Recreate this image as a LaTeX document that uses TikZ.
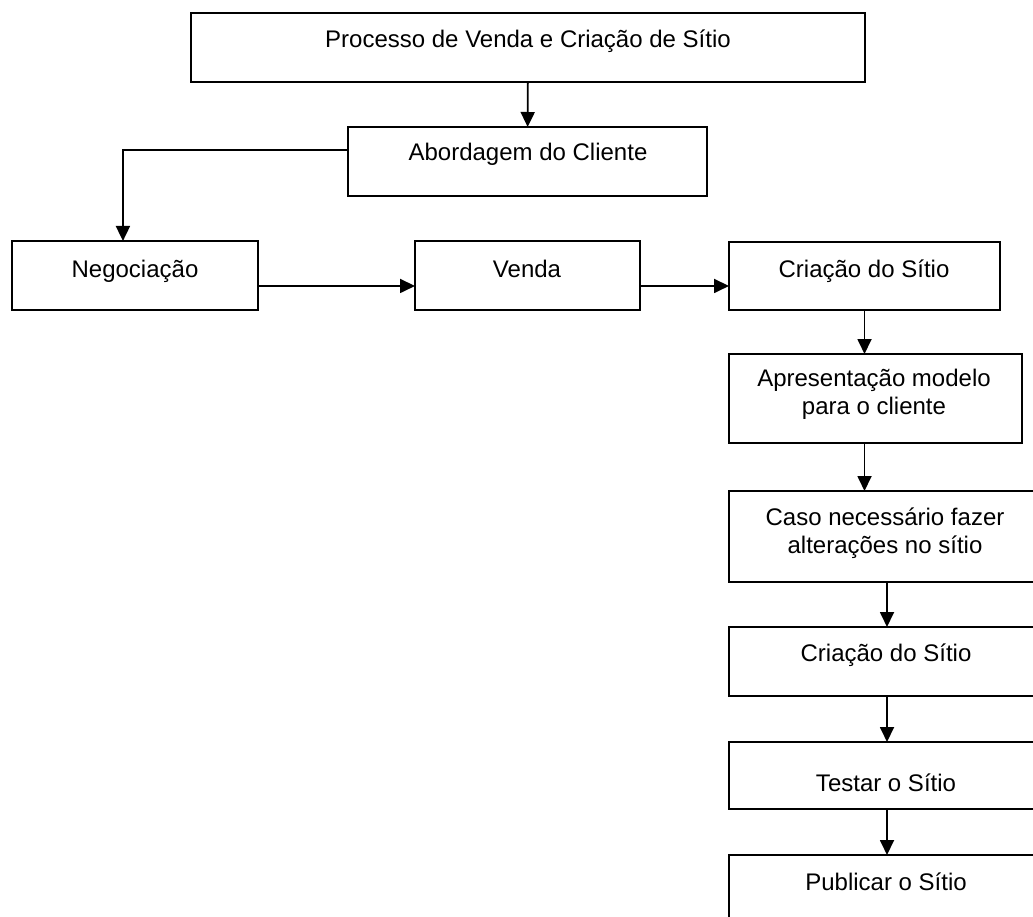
\documentclass[tikz,border=0pt]{standalone}
\usepackage{fontspec}
\setmainfont{Liberation Sans}
\usetikzlibrary{arrows.meta,calc}
\tikzset{
  box/.style={draw=black, line width=2pt, inner sep=0pt, outer sep=0pt, fill=none},
  lbl/.style={anchor=base, inner sep=0pt, outer sep=0pt, font=\fontsize{24}{28.5}\selectfont},
  conn/.style={line width=1.8pt, -{Triangle[length=15pt,width=14pt]}},
}
\begin{document}
\begin{tikzpicture}[x=1pt,y=-1pt]
\useasboundingbox (0,0) rectangle (1033,917);
\clip (0,0) rectangle (1033,917);
% boxes
\node[box, minimum width=674pt, minimum height=69pt] (top) at (528,47.5) {};
\node[box, minimum width=359pt, minimum height=69pt] (abord) at (527.5,161.5) {};
\node[box, minimum width=246pt, minimum height=69pt] (neg) at (135,275.5) {};
\node[box, minimum width=225pt, minimum height=69pt] (venda) at (527.5,275.5) {};
\node[box, minimum width=271pt, minimum height=68pt] (cria) at (864.5,276) {};
\node[box, minimum width=293pt, minimum height=89pt] (apres) at (875.5,398.5) {};
\node[box, minimum width=316pt, minimum height=91pt] (caso) at (887,536.5) {};
\node[box, minimum width=316pt, minimum height=69pt] (criab) at (887,661.5) {};
\node[box, minimum width=316pt, minimum height=67pt] (testar) at (887,775.5) {};
\node[box, minimum width=316pt, minimum height=75pt] (publ) at (887,892.5) {};
% labels
\node[lbl] (ltop) at (528,48) {Processo de Venda e Criação de Sítio};
\node[lbl] (labord) at (528,161) {Abordagem do Cliente};
\node[lbl] (lneg) at (135,277) {Negociação};
\node[lbl] (lvenda) at (527,277) {Venda};
\node[lbl] (lcria) at (864,277) {Criação do Sítio};
\node[lbl] (lapres) at (874,386) {\begin{tabular}[t]{@{}c@{}}Apresentação modelo\\para o cliente\end{tabular}};
\node[lbl] (lcaso) at (885,525) {\begin{tabular}[t]{@{}c@{}}Caso necessário fazer\\alterações no sítio\end{tabular}};
\node[lbl] (lcriab) at (886,661) {Criação do Sítio};
\node[lbl] (ltestar) at (886,791) {Testar o Sítio};
\node[lbl] (lpubl) at (886,890) {Publicar o Sítio};
% connectors
\draw[conn] (top) -- (abord);
\coordinate (aw) at ($(abord.north west)!0.333!(abord.south west)$);
\coordinate (nn) at ($(neg.north west)!0.451!(neg.north east)$);
\draw[conn] (aw) -| (nn);
\coordinate (ne) at ($(neg.north east)!0.652!(neg.south east)$);
\draw[conn] (ne) -- (ne -| venda.west);
\coordinate (ve) at (ne -| venda.east);
\draw[conn] (ve) -- (ve -| cria.west);
\draw[conn] (cria.south) -- (cria.south |- apres.north);
\draw[conn] (cria.south |- apres.south) -- (cria.south |- caso.north);
\draw[conn] (caso.south) -- (criab.north);
\draw[conn] (criab.south) -- (testar.north);
\draw[conn] (testar.south) -- (publ.north);
\end{tikzpicture}
\end{document}
